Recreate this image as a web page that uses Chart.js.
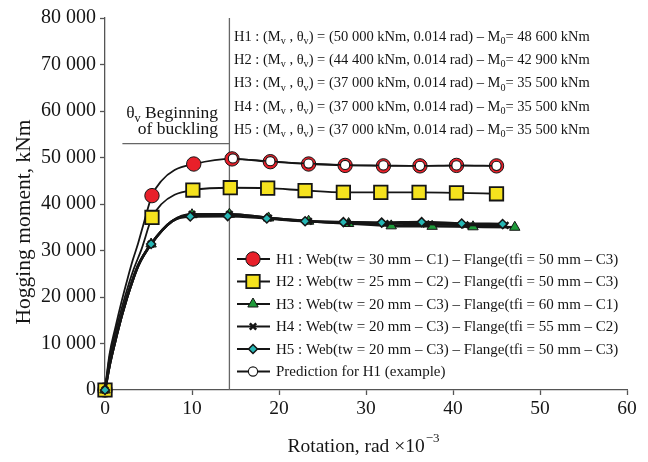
<!DOCTYPE html>
<html>
<head>
<meta charset="utf-8">
<script src="https://cdn.jsdelivr.net/npm/chart.js@4"></script>
<style>
  html, body { margin: 0; padding: 0; background: #fff; }
  #wrap { width: 648px; height: 462px; }
</style>
</head>
<body>
<div id="wrap"><canvas id="chart" width="648" height="462"></canvas></div>
<script>
// rotation (rad x 1e-3) and hogging moment (kNm)
const rotH1 = [0, 0.5, 1.2, 1.9, 2.6, 3.2, 3.8, 4.4, 5.4, 6.5, 8.0, 10.2, 14.6, 19.0, 23.4, 27.6, 32.0, 36.2, 40.4, 45.0]
const momH1 = [0, 7500, 13500, 19000, 24000, 28000, 31500, 35500, 41800, 45000, 47300, 48600, 49700, 49100, 48600, 48300, 48200, 48200, 48300, 48200]
const markH1 = [0, 8, 11, 12, 13, 14, 15, 16, 17, 18, 19]

const rotH2 = [0, 0.5, 1.2, 1.9, 2.6, 3.3, 4.2, 5.4, 6.5, 8.0, 10.1, 14.4, 18.7, 23.0, 27.4, 31.7, 36.1, 40.4, 45.0]
const momH2 = [0, 6800, 12500, 17500, 22000, 26000, 30300, 37100, 40000, 42000, 43000, 43500, 43400, 42900, 42500, 42500, 42500, 42400, 42200]
const markH2 = [0, 7, 10, 11, 12, 13, 14, 15, 16, 17, 18]

const rotH3 = [0, 0.6, 1.3, 2.0, 2.8, 3.8, 5.3, 7.7, 10.0, 14.3, 18.8, 23.4, 28.0, 32.9, 37.6, 42.3, 47.1]
const momH3 = [0, 6000, 11500, 16500, 21500, 26700, 31400, 36300, 37700, 37800, 37000, 36300, 35800, 35300, 35200, 35100, 35000]
const markH3 = [0, 6, 8, 9, 10, 11, 12, 13, 14, 15, 16]

const rotH4 = [0, 0.6, 1.3, 2.0, 2.8, 3.8, 5.3, 7.7, 10.0, 14.3, 18.8, 23.4, 27.8, 32.2, 36.9, 41.4, 46.0]
const momH4 = [0, 6000, 11500, 16500, 21500, 26700, 31400, 36300, 37800, 37800, 37000, 36300, 36000, 35800, 35700, 35500, 35400]
const markH4 = [0, 6, 8, 9, 10, 11, 12, 13, 14, 15, 16]

const rotH5 = [0, 0.6, 1.3, 2.0, 2.8, 3.8, 5.3, 7.7, 9.8, 14.1, 18.6, 23.0, 27.4, 31.8, 36.4, 41.0, 45.7]
const momH5 = [0, 6000, 11500, 16500, 21500, 26700, 31400, 36300, 37300, 37400, 36900, 36300, 36100, 36000, 36100, 35800, 35700]
const markH5 = [0, 6, 8, 9, 10, 11, 12, 13, 14, 15, 16]

const rotPred = [14.7, 19.0, 23.4, 27.6, 32.0, 36.2, 40.4, 45.0]
const momPred = [49800, 49200, 48700, 48400, 48300, 48200, 48300, 48200]

const legendLabels = [
  'H1 : Web(tw = 30 mm \u2013 C1) \u2013 Flange(tfi = 50 mm \u2013 C3)',
  'H2 : Web(tw = 25 mm \u2013 C2) \u2013 Flange(tfi = 50 mm \u2013 C3)',
  'H3 : Web(tw = 20 mm \u2013 C3) \u2013 Flange(tfi = 60 mm \u2013 C1)',
  'H4 : Web(tw = 20 mm \u2013 C3) \u2013 Flange(tfi = 55 mm \u2013 C2)',
  'H5 : Web(tw = 20 mm \u2013 C3) \u2013 Flange(tfi = 50 mm \u2013 C3)',
  'Prediction for H1 (example)'
]

// (Mv, theta_v) and M0 for each specimen
const propIds = ['H1', 'H2', 'H3', 'H4', 'H5']
const propMv = [50000, 44400, 37000, 37000, 37000]
const propTheta = ['0.014', '0.014', '0.014', '0.014', '0.014']
const propM0 = [48600, 42900, 35500, 35500, 35500]

const xTicks = [0, 10, 20, 30, 40, 50, 60]
const yTicks = [0, 10000, 20000, 30000, 40000, 50000, 60000, 70000, 80000]

// beginning of buckling marker
const buckleRot = 14.3
const buckleLineMom = 53000
const buckleLineStart = 2.0

const serif = '"Liberation Serif", "Times New Roman", serif'
const ink = '#151515'
const axisGrey = '#555'

function fmt(v) {
  return String(v).replace(/\B(?=(\d{3})+(?!\d))/g, ' ')
}

function toPoints(xs, ys) {
  return xs.map((x, i) => ({ x: x, y: ys[i] }))
}

function markedRadius(marks, r) {
  return ctx => marks.includes(ctx.dataIndex) ? r : 0
}

// draws a run of [text, isSubscript] pieces starting at x
function drawRich(ctx, parts, x, y, size, align) {
  const subSize = size * 0.7
  let w = 0
  parts.forEach(([t, sub]) => {
    ctx.font = (sub ? subSize : size) + 'px ' + serif
    w += ctx.measureText(t).width
  })
  let cx = align === 'right' ? x - w : x
  ctx.textAlign = 'left'
  ctx.textBaseline = 'alphabetic'
  parts.forEach(([t, sub]) => {
    ctx.font = (sub ? subSize : size) + 'px ' + serif
    ctx.fillText(t, cx, sub ? y + size * 0.22 : y)
    cx += ctx.measureText(t).width
  })
}

const datasets = [
  {
    label: legendLabels[0], data: toPoints(rotH1, momH1), order: 5, clip: false,
    borderColor: ink, borderWidth: 1.8,
    pointStyle: 'circle', pointRadius: markedRadius(markH1, 7.2),
    pointBackgroundColor: '#e8202a', pointBorderColor: ink, pointBorderWidth: 1
  },
  {
    label: legendLabels[1], data: toPoints(rotH2, momH2), order: 4, clip: false,
    borderColor: ink, borderWidth: 1.8,
    pointStyle: 'rect', pointRadius: markedRadius(markH2, 9.5),
    pointBackgroundColor: '#f5e21e', pointBorderColor: ink, pointBorderWidth: 1.8
  },
  {
    label: legendLabels[2], data: toPoints(rotH3, momH3), order: 3, clip: false,
    borderColor: ink, borderWidth: 2.6,
    pointStyle: 'triangle', pointRadius: markedRadius(markH3, 6),
    pointBackgroundColor: '#1e9a3a', pointBorderColor: ink, pointBorderWidth: 1
  },
  {
    label: legendLabels[3], data: toPoints(rotH4, momH4), order: 2, clip: false,
    borderColor: ink, borderWidth: 2.6,
    pointStyle: 'crossRot', pointRadius: markedRadius(markH4, 4.5),
    pointBackgroundColor: ink, pointBorderColor: ink, pointBorderWidth: 2.5
  },
  {
    label: legendLabels[4], data: toPoints(rotH5, momH5), order: 1, clip: false,
    borderColor: ink, borderWidth: 2.6,
    pointStyle: 'rectRot', pointRadius: markedRadius(markH5, 4.5),
    pointBackgroundColor: '#26b6b4', pointBorderColor: ink, pointBorderWidth: 1.5
  },
  {
    label: legendLabels[5], data: toPoints(rotPred, momPred), order: 0, clip: false,
    borderColor: ink, borderWidth: 1.5,
    pointStyle: 'circle', pointRadius: 4.6,
    pointBackgroundColor: '#fff', pointBorderColor: ink, pointBorderWidth: 1.1
  }
]

const annotations = {
  id: 'annotations',
  beforeDatasetsDraw(chart) {
    const { ctx, chartArea, scales } = chart
    const xs = scales.x, ys = scales.y
    const vx = xs.getPixelForValue(buckleRot)
    ctx.save()
    ctx.strokeStyle = '#666'
    ctx.lineWidth = 1.3
    ctx.beginPath()
    ctx.moveTo(vx, chartArea.top)
    ctx.lineTo(vx, chartArea.bottom)
    const hy = ys.getPixelForValue(buckleLineMom)
    ctx.moveTo(xs.getPixelForValue(buckleLineStart), hy)
    ctx.lineTo(vx, hy)
    ctx.stroke()
    ctx.restore()
  },
  afterDraw(chart) {
    const { ctx } = chart
    ctx.save()
    ctx.fillStyle = ink

    // buckling label
    drawRich(ctx, [['\u03b8', false], ['v', true], [' Beginning', false]], 218, 118, 17.5, 'right')
    drawRich(ctx, [['of buckling', false]], 218, 134, 17.5, 'right')

    // specimen properties
    propIds.forEach((id, i) => {
      const y = 41 + i * 23.2
      drawRich(ctx, [
        [id + ' : (M', false], ['v', true], [' , \u03b8', false], ['v', true],
        [') = (' + fmt(propMv[i]) + ' kNm, ' + propTheta[i] + ' rad) \u2013 M', false],
        ['0', true], ['= ' + fmt(propM0[i]) + ' kNm', false]
      ], 234, y, 14.5, 'left')
    })

    // legend
    chart.data.datasets.forEach((ds, i) => {
      const y = 259 + i * 22.5
      ctx.strokeStyle = ink
      ctx.lineWidth = 2.2
      ctx.beginPath()
      ctx.moveTo(237, y)
      ctx.lineTo(270, y)
      ctx.stroke()
      const r = typeof ds.pointRadius === 'function' ? ds.pointRadius({ dataIndex: 0 }) : ds.pointRadius
      ctx.fillStyle = ds.pointBackgroundColor
      ctx.strokeStyle = ds.pointBorderColor
      ctx.lineWidth = ds.pointBorderWidth
      Chart.helpers.drawPoint(ctx, { pointStyle: ds.pointStyle, radius: r, rotation: 0, borderWidth: ds.pointBorderWidth }, 253, y)
      ctx.fillStyle = ink
      ctx.font = '15px ' + serif
      ctx.textAlign = 'left'
      ctx.textBaseline = 'middle'
      ctx.fillText(legendLabels[i], 276, y + 1)
    })

    // axis titles
    ctx.save()
    ctx.translate(24, 222)
    ctx.rotate(-Math.PI / 2)
    ctx.font = '21.5px ' + serif
    ctx.textAlign = 'center'
    ctx.textBaseline = 'middle'
    ctx.fillText('Hogging moment, kNm', 0, 0)
    ctx.restore()

    ctx.font = '19.5px ' + serif
    const main = 'Rotation, rad \u00d710'
    const mw = ctx.measureText(main).width
    ctx.font = '13px ' + serif
    const sw = ctx.measureText('\u22123').width
    let tx = 363 - (mw + sw) / 2
    ctx.font = '19.5px ' + serif
    ctx.textAlign = 'left'
    ctx.textBaseline = 'alphabetic'
    ctx.fillText(main, tx, 452)
    ctx.font = '13px ' + serif
    ctx.fillText('\u22123', tx + mw + 1, 442)
    ctx.restore()
  }
}

new Chart(document.getElementById('chart'), {
  type: 'line',
  data: { datasets: datasets },
  options: {
    responsive: false,
    animation: false,
    cubicInterpolationMode: 'monotone',
    layout: { padding: { top: 18, right: 21, left: 0, bottom: 0 } },
    plugins: { legend: { display: false }, tooltip: { enabled: false } },
    scales: {
      x: {
        type: 'linear', min: 0, max: 60,
        afterFit: s => { s.height = 72 },
        afterBuildTicks: s => { s.ticks = xTicks.map(v => ({ value: v })) },
        border: { display: true, color: axisGrey, width: 1.3 },
        grid: { drawOnChartArea: false, drawTicks: true, tickLength: 5, color: axisGrey, tickWidth: 1.3 },
        ticks: { color: ink, padding: 2, font: { family: serif, size: 19.5 } }
      },
      y: {
        type: 'linear', min: 0, max: 80000,
        afterFit: s => { s.width = 105 },
        afterBuildTicks: s => { s.ticks = yTicks.map(v => ({ value: v })) },
        border: { display: true, color: axisGrey, width: 1.3 },
        grid: { drawOnChartArea: false, drawTicks: true, tickLength: 5, color: axisGrey, tickWidth: 1.3 },
        ticks: { color: ink, padding: 4, font: { family: serif, size: 20 }, callback: v => fmt(v) }
      }
    }
  },
  plugins: [annotations]
})
</script>
</body>
</html>
